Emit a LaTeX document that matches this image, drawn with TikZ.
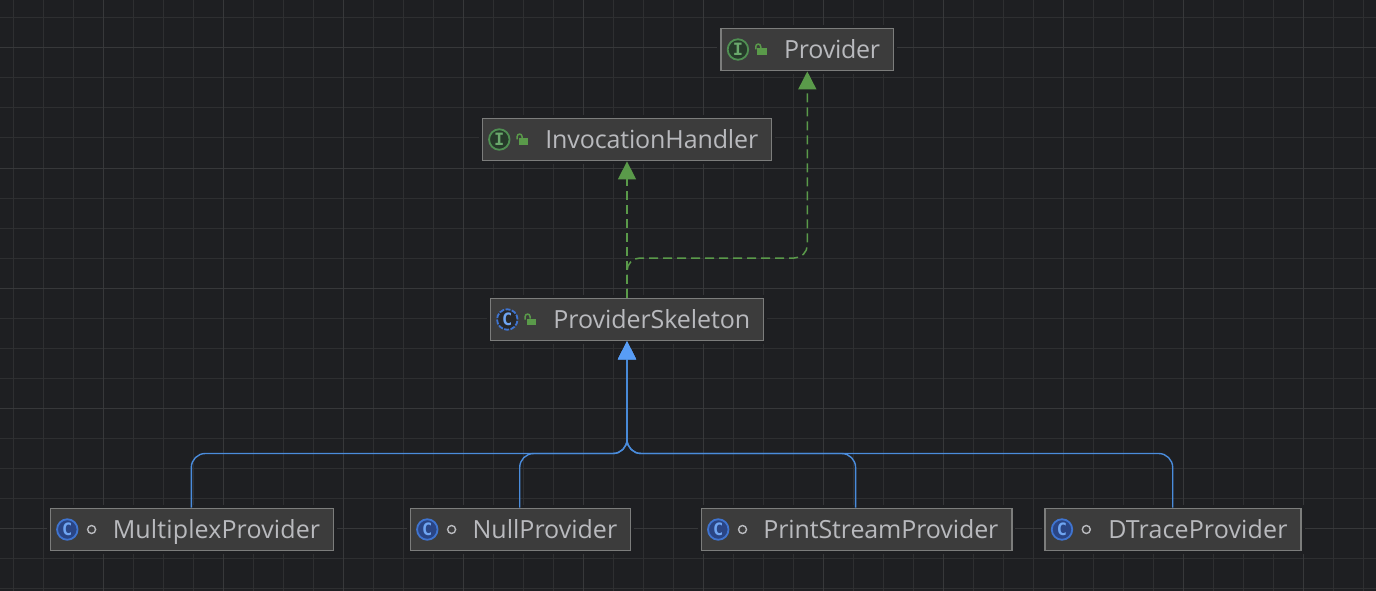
\documentclass[tikz,border=0pt]{standalone}
\usepackage{fontspec}
\setmainfont{Open Sans}
\newfontfamily\iconfont{DejaVu Sans Mono}
\usetikzlibrary{arrows.meta,calc}
\definecolor{bgc}{HTML}{1E1F22}
\definecolor{gridminor}{HTML}{2E2F31}
\definecolor{gridmajor}{HTML}{37383A}
\definecolor{boxfill}{HTML}{3C3C3C}
\definecolor{boxline}{HTML}{7C7D7C}
\definecolor{txt}{HTML}{B9BABE}
\definecolor{implc}{HTML}{5A9A4A}
\definecolor{extc}{HTML}{4A8CDC}
\definecolor{exth}{HTML}{589DF6}
\definecolor{iring}{HTML}{4F8F52}
\definecolor{ifill}{HTML}{263A2A}
\definecolor{iletter}{HTML}{6AA86C}
\definecolor{cring}{HTML}{3F74D0}
\definecolor{cfill}{HTML}{2A4585}
\definecolor{cletter}{HTML}{6FA5F2}
\tikzset{
  classbox/.style={draw=boxline,fill=boxfill,line width=1.4pt,text=txt,align=right,
    inner xsep=13.5pt,inner ysep=0pt,minimum height=42.4pt,text height=18pt,text depth=0pt,
    font=\fontsize{25}{30}\selectfont,
    preaction={draw=bgc,line width=7pt}},
  implline/.style={draw=implc,line width=1.5pt,dash pattern=on 9pt off 5pt,rounded corners=13pt,
    -{Triangle[width=18pt,length=18pt,color=implc,fill=implc]}},
  extline/.style={draw=extc,line width=1.4pt,rounded corners=14pt,
    -{Triangle[width=18pt,length=18pt,color=exth,fill=exth]}},
  iconring/.style={circle,minimum size=20.5pt,inner sep=0pt,line width=1.8pt,
    font=\fontsize{17}{17}\selectfont\iconfont\bfseries},
  ifc/.style={iconring,draw=iring,fill=ifill,text=iletter},
  cls/.style={iconring,draw=cring,fill=cfill,text=cletter},
  abscls/.style={iconring,draw=cring,dash pattern=on 5pt off 1.4pt,fill=bgc!70!boxfill,text=cletter},
  pkgdot/.style={circle,draw=txt,line width=1.4pt,minimum size=8pt,inner sep=0pt},
  lockbody/.style={fill=implc,draw=none},
  lockarc/.style={draw=implc,line width=1.5pt}
}
\newcommand{\classbox}[6]{%
  \pgfmathsetmacro{\tw}{#4-27}%
  \node[classbox,text width=\tw pt] (#1) at (#2,#3) {\addfontfeature{LetterSpace=#6}#5};}
\newcommand{\lockicon}[1]{%
  \fill[lockbody] ($(#1.west)+(37,-1)$) rectangle ($(#1.west)+(46.7,5.8)$);
  \draw[lockarc] ($(#1.west)+(35.5,0)$) -- ($(#1.west)+(35.5,-2.8)$)
    .. controls ($(#1.west)+(35.5,-6.3)$) and ($(#1.west)+(40.5,-6.3)$) .. ($(#1.west)+(40.5,-2.8)$)
    -- ($(#1.west)+(40.5,-1)$);}
\begin{document}
\begin{tikzpicture}[x=1pt,y=-1pt]
\useasboundingbox (0,0) rectangle (1376,591);
\fill[bgc] (0,0) rectangle (1376,591);
% grid
\foreach \x in {13,43,...,1373} \draw[gridminor,line width=1pt] (\x,0) -- (\x,591);
\foreach \y in {18,48,...,588} \draw[gridminor,line width=1pt] (0,\y) -- (1376,\y);
\foreach \x in {103,223,...,1373} \draw[gridmajor,line width=1pt] (\x,0) -- (\x,591);
\foreach \y in {48,168,...,588} \draw[gridmajor,line width=1pt] (0,\y) -- (1376,\y);
% nodes
\classbox{prov}{807.3}{49.5}{172.7}{Provider}{-1}
\classbox{inv}{627}{139.5}{289.4}{InvocationHandler}{-0.5}
\classbox{skel}{627}{319.5}{273.4}{ProviderSkeleton}{-0.25}
\classbox{mult}{192}{529.5}{283.4}{MultiplexProvider}{0.5}
\classbox{null}{520.5}{529.5}{220.4}{NullProvider}{0}
\classbox{print}{856.6}{529.5}{310.7}{PrintStreamProvider}{-0.4}
\classbox{dtrace}{1173}{529.5}{256}{DTraceProvider}{0.55}
% icons
\node[ifc] (provi) at ($(prov.west)+(17.7,0)$) {I};
\node[ifc] (invi) at ($(inv.west)+(17.7,0)$) {I};
\node[abscls] (skeli) at ($(skel.west)+(17.7,0)$) {C};
\node[cls] (multi) at ($(mult.west)+(17.7,0)$) {C};
\node[cls] (nulli) at ($(null.west)+(17.7,0)$) {C};
\node[cls] (printi) at ($(print.west)+(17.7,0)$) {C};
\node[cls] (dtracei) at ($(dtrace.west)+(17.7,0)$) {C};
\lockicon{prov}\lockicon{inv}\lockicon{skel}
\node[pkgdot] (multd) at ($(mult.west)+(42,0)$) {};
\node[pkgdot] (nulld) at ($(null.west)+(42,0)$) {};
\node[pkgdot] (printd) at ($(print.west)+(42,0)$) {};
\node[pkgdot] (dtraced) at ($(dtrace.west)+(42,0)$) {};
% connectors
\coordinate (gbus) at (627,258);
\coordinate (bbus) at (627,453.5);
\draw[implline] (skel.north) -- (inv.south);
\draw[implline] (skel.north) -- (gbus) -- (gbus -| prov.south) -- (prov.south);
\draw[extline] ([xshift=-0.7pt]mult.north) -- ([xshift=-0.7pt]mult.north |- bbus) -- (bbus) -- (skel.south);
\draw[extline] ([xshift=-0.8pt]null.north) -- ([xshift=-0.8pt]null.north |- bbus) -- (bbus) -- (skel.south);
\draw[extline] ([xshift=-1pt]print.north) -- ([xshift=-1pt]print.north |- bbus) -- (bbus) -- (skel.south);
\draw[extline] ([xshift=-0.3pt]dtrace.north) -- ([xshift=-0.3pt]dtrace.north |- bbus) -- (bbus) -- (skel.south);
\end{tikzpicture}
\end{document}
